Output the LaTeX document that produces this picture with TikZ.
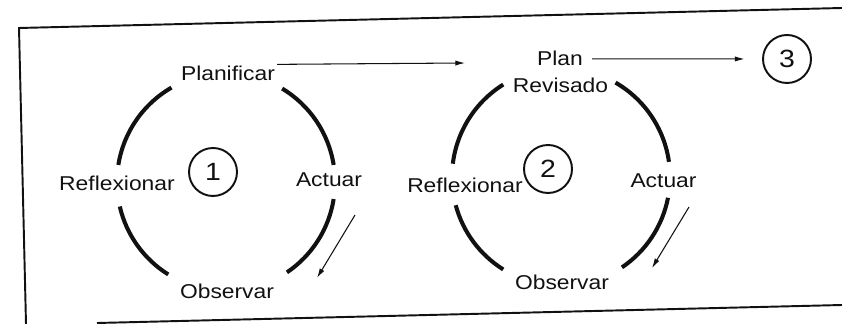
\documentclass[tikz,border=0pt]{standalone}
\usepackage{fontspec}
\setmainfont{Liberation Sans}[FakeStretch=1.14]
\usepackage{xcolor}
\usepackage{tikz}
\usetikzlibrary{arrows.meta,positioning}
\definecolor{ink}{HTML}{111111}
\tikzset{
  >={Latex[length=5.5pt,width=3pt]},
  frame/.style={draw=ink,line width=1.1pt},
  ring/.style={draw=ink,line width=2.3pt},
  lbl/.style={inner sep=1pt,anchor=base,text=ink,font=\fontsize{11.4}{13}\selectfont},
  stage/.style={circle,draw=ink,line width=1.1pt,minimum size=0.96cm,inner sep=0pt,
    text=ink,font=\fontsize{14.2}{16}\selectfont},
  flow/.style={->,line width=.6pt,color=ink},
}

\begin{document}
\begin{tikzpicture}[x=1cm,y=1cm]
  \useasboundingbox (0,0) rectangle (16.84,-6.48);
  % scanned frame, slightly tilted
  \coordinate (ftl) at (0.38,-0.56);
  \coordinate (ftr) at (16.84,-0.16);
  \coordinate (fbl) at (0.52,-6.48);
  \coordinate (fbs) at (1.94,-6.46);
  \coordinate (fbr) at (16.84,-6.10);
  \draw[frame] (fbl)--(ftl)--(ftr);
  \draw[frame] (fbs)--(fbr);

  % first cycle
  \coordinate (c1) at (4.52,-3.64);
  \draw[ring] (c1) ++(120:2.18) arc[start angle=120,end angle=171,radius=2.18]
    (c1) ++(9:2.18) arc[start angle=9,end angle=59,radius=2.18]
    (c1) ++(-9:2.18) arc[start angle=-9,end angle=-56,radius=2.18]
    (c1) ++(193:2.18) arc[start angle=193,end angle=238,radius=2.18];
  \node[lbl] (plan1) at (4.56,-1.62) {Planificar};
  \node[lbl] (refl1) at (2.34,-3.82) {Reflexionar};
  \node[lbl] (act1) at (6.58,-3.74) {Actuar};
  \node[lbl] (obs1) at (4.54,-5.98) {Observar};
  \node[stage] (n1) at (4.26,-3.44) {1};

  % second cycle
  \coordinate (c2) at (11.22,-3.54);
  \draw[ring] (c2) ++(122:2.18) arc[start angle=122,end angle=173,radius=2.18]
    (c2) ++(8:2.18) arc[start angle=8,end angle=60,radius=2.18]
    (c2) ++(-11:2.18) arc[start angle=-11,end angle=-56,radius=2.18]
    (c2) ++(195:2.18) arc[start angle=195,end angle=238,radius=2.18];
  \node[lbl] (plan2) at (11.20,-1.32) {Plan};
  \node[lbl] (rev2) at (11.21,-1.86) {Revisado};
  \node[lbl] (refl2) at (9.30,-3.86) {Reflexionar};
  \node[lbl] (act2) at (13.27,-3.76) {Actuar};
  \node[lbl] (obs2) at (11.24,-5.80) {Observar};
  \node[stage] (n2) at (10.96,-3.38) {2};

  \node[stage] (n3) at (15.74,-1.18) {3};

  % arrows
  \coordinate (pend) at (9.30,-1.26);
  \coordinate (a1s) at (7.10,-4.30);
  \coordinate (a1e) at (6.34,-5.56);
  \coordinate (a2s) at (13.78,-4.14);
  \coordinate (a2e) at (13.04,-5.36);
  \draw[flow] (plan1.north east)--(pend);
  \draw[flow,shorten <=4pt,shorten >=10pt] (plan2.east)--(n3.west);
  \draw[flow] (a1s)--(a1e);
  \draw[flow] (a2s)--(a2e);
\end{tikzpicture}
\end{document}
